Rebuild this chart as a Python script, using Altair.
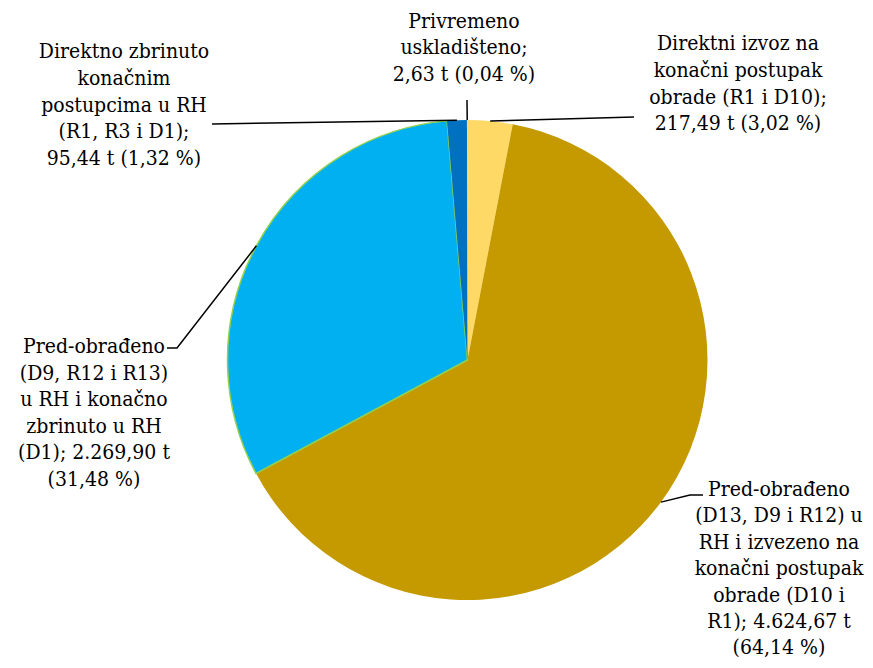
import math
import altair as alt
import pandas as pd

# ---------------- data ----------------
categories = [
    "Direktni izvoz na konačni postupak obrade (R1 i D10)",
    "Pred-obrađeno (D13, D9 i R12) u RH i izvezeno na konačni postupak obrade (D10 i R1)",
    "Pred-obrađeno (D9, R12 i R13) u RH i konačno zbrinuto u RH (D1)",
    "Direktno zbrinuto konačnim postupcima u RH (R1, R3 i D1)",
    "Privremeno uskladišteno",
]
tonnes = [217.49, 4624.67, 2269.90, 95.44, 2.63]
label_lines = [
    ["Direktni izvoz na", "konačni postupak", "obrade (R1 i D10);", "217,49 t (3,02 %)"],
    ["Pred-obrađeno", "(D13, D9 i R12) u", "RH i izvezeno na", "konačni postupak",
     "obrade (D10 i", "R1); 4.624,67 t", "(64,14 %)"],
    ["Pred-obrađeno", "(D9, R12 i R13)", "u RH i konačno", "zbrinuto u RH",
     "(D1); 2.269,90 t", "(31,48 %)"],
    ["Direktno zbrinuto", "konačnim", "postupcima u RH", "(R1, R3 i D1);", "95,44 t (1,32 %)"],
    ["Privremeno", "uskladišteno;", "2,63 t (0,04 %)"],
]

# ---------------- layout / style ----------------
colors = ["#FFD966", "#C49A00", "#00B0F0", "#0070C0", "#A9D18E"]
W, H = 857, 652
OFF = 8
CX, CY, R = 467.5, 360, 240
FONT = "DejaVu Serif Condensed, DejaVu Serif"
FS = 21
# label anchor: (centre x, first line y, line step), page coords
label_anchor = [(738, 44, 26.8), (779, 490, 26.4), (94, 347, 26.6), (124, 52, 26.8), (464, 21.5, 26.8)]
leader_pts = [
    [(634, 117)],
    [(703, 495), (690, 495)],
    [(167, 348), (177, 348)],
    [(212, 124)],
    [(467, 100)],
]

total = sum(tonnes)
pie_df = pd.DataFrame({"cat": categories, "tonnes": tonnes, "idx": range(len(categories))})

rows_txt = []
for i, lines in enumerate(label_lines):
    ax, ay, lh = label_anchor[i]
    for j, t in enumerate(lines):
        rows_txt.append({"g": i, "x": ax, "y": ay + j * lh, "t": t})
txt_df = pd.DataFrame(rows_txt)

rows_ln = []
cum = 0.0
for i, v in enumerate(tonnes):
    mid = (cum + v / 2) / total * 2 * math.pi
    cum += v
    ex = CX + R * math.sin(mid)
    ey = CY - R * math.cos(mid)
    pts = leader_pts[i] + [(ex, ey)]
    for k, (px, py) in enumerate(pts):
        rows_ln.append({"g": i, "o": k, "x": px, "y": py})
ln_df = pd.DataFrame(rows_ln)

xs = alt.Scale(domain=[OFF, OFF + W], range=[0, W])
ys = alt.Scale(domain=[OFF, OFF + H], range=[0, H])

pie = alt.Chart(pie_df).mark_arc(outerRadius=R).encode(
    theta=alt.Theta("tonnes:Q", stack=True),
    order=alt.Order("idx:Q"),
    color=alt.Color("cat:N", scale=alt.Scale(domain=categories, range=colors), legend=None),
    stroke=alt.value("#92D050"),
    strokeWidth=alt.condition(alt.datum.idx == 2, alt.value(1.5), alt.value(0)),
    x=alt.value(CX - OFF),
    y=alt.value(CY - OFF),
)

leaders = alt.Chart(ln_df).mark_line(color="black", strokeWidth=1.5).encode(
    x=alt.X("x:Q", scale=xs, axis=None),
    y=alt.Y("y:Q", scale=ys, axis=None),
    detail="g:N",
    order="o:Q",
)

texts = alt.Chart(txt_df).mark_text(
    font=FONT, fontSize=FS, color="black", align="center", baseline="middle"
).encode(
    x=alt.X("x:Q", scale=xs, axis=None),
    y=alt.Y("y:Q", scale=ys, axis=None),
    text="t:N",
)

chart = alt.layer(pie, leaders, texts).properties(
    width=W, height=H, padding=0, autosize=alt.AutoSizeParams(type="none")
).configure_view(stroke=None).resolve_scale(color="independent")

chart.save("out.html", embed_options={"renderer": "svg", "actions": False})
